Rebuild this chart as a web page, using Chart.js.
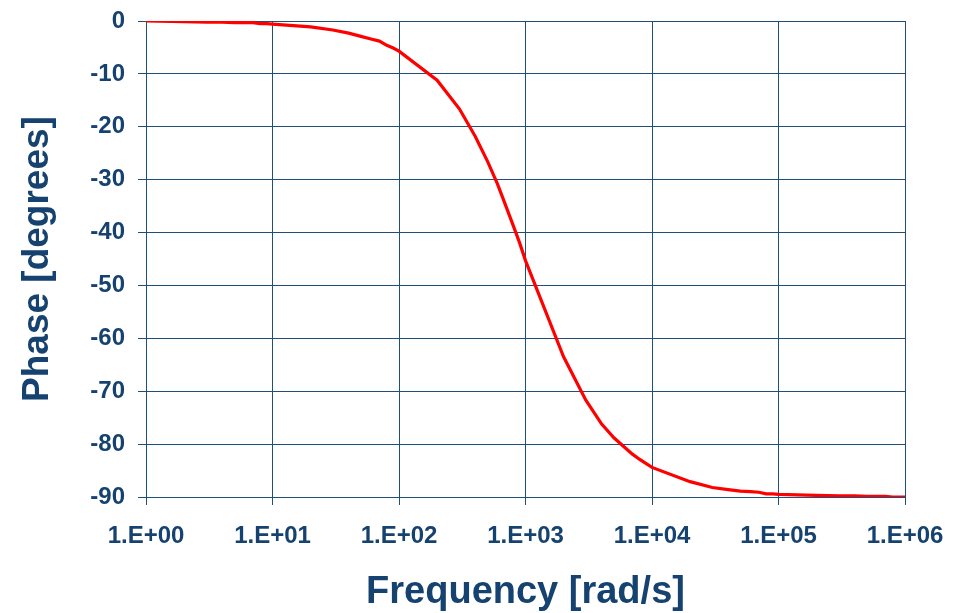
<!DOCTYPE html>
<html>
<head>
<meta charset="utf-8">
<script src="https://cdn.jsdelivr.net/npm/chart.js@4.4.1/dist/chart.umd.min.js"></script>
<style>
  html, body { margin: 0; padding: 0; background: #fff; }
  #wrap { width: 968px; height: 613px; position: relative; }
</style>
</head>
<body>
<div id="wrap"><canvas id="phaseChart"></canvas></div>
<script>
// ── Data ──────────────────────────────────────────────
const freq = [
  1, 2, 3, 4, 5, 6, 7, 8, 9,
  10, 20, 30, 40, 50, 60, 70, 80, 90,
  100, 200, 300, 400, 500, 600, 700, 800, 900,
  1000, 2000, 3000, 4000, 5000, 6000, 7000, 8000, 9000,
  10000, 20000, 30000, 40000, 50000, 60000, 70000, 80000, 90000,
  100000, 200000, 300000, 400000, 500000, 600000, 700000, 800000, 900000,
  1000000
];
const phase = [
  0, -0.1, -0.2, -0.2, -0.3, -0.3, -0.3, -0.5, -0.5,
  -0.6, -1.1, -1.7, -2.3, -2.9, -3.4, -3.8, -4.6, -5.1,
  -5.7, -11.2, -16.6, -21.8, -26.5, -30.8, -35.0, -38.7, -42.0,
  -45.3, -63.5, -71.7, -76.2, -78.8, -80.5, -81.9, -82.9, -83.7,
  -84.4, -87.1, -88.2, -88.6, -88.9, -89.0, -89.1, -89.4, -89.4,
  -89.5, -89.7, -89.8, -89.8, -89.9, -89.9, -89.9, -90, -90,
  -90
];
const xTickValues = [1, 10, 100, 1000, 10000, 100000, 1000000];
const xTickLabels = ["1.E+00", "1.E+01", "1.E+02", "1.E+03", "1.E+04", "1.E+05", "1.E+06"];

// ── Style ─────────────────────────────────────────────
const TEXT = "#16426f";
const GRID = "#1f4e79";
const FONT = "'Liberation Sans', Arial, sans-serif";

const points = freq.map((f, i) => ({ x: f, y: phase[i] }));

new Chart(document.getElementById("phaseChart"), {
  type: "line",
  data: {
    datasets: [{
      data: points,
      borderColor: "#ff0000",
      borderWidth: 3.2,
      pointRadius: 0,
      tension: 0,
      fill: false
    }]
  },
  options: {
    responsive: true,
    maintainAspectRatio: false,
    animation: false,
    layout: { padding: { top: 21, right: 63, bottom: 0, left: 0 } },
    plugins: { legend: { display: false }, tooltip: { enabled: false } },
    scales: {
      x: {
        type: "logarithmic",
        min: 1, max: 1000000,
        afterBuildTicks: s => { s.ticks = xTickValues.map(v => ({ value: v })); },
        afterFit: s => { s.height = 116; s.paddingLeft = 0; s.paddingRight = 0; },
        grid: { color: GRID, lineWidth: 1, tickLength: 8, tickColor: GRID },
        border: { color: GRID, width: 1 },
        ticks: {
          autoSkip: false, maxRotation: 0, padding: 17,
          color: TEXT, font: { family: FONT, size: 24, weight: "bold" },
          callback: v => xTickLabels[xTickValues.indexOf(v)] ?? ""
        },
        title: {
          display: true, text: "Frequency [rad/s]", color: TEXT,
          font: { family: FONT, size: 38, weight: "bold", lineHeight: 1 },
          padding: { top: 0, bottom: 1 }
        }
      },
      y: {
        min: -90, max: 0,
        afterFit: s => { s.width = 146; s.paddingTop = 0; s.paddingBottom = 0; },
        grid: { color: GRID, lineWidth: 1, tickLength: 8, tickColor: GRID },
        border: { color: GRID, width: 1 },
        ticks: {
          stepSize: 10, padding: 13,
          color: TEXT, font: { family: FONT, size: 24, weight: "bold" }
        },
        title: {
          display: true, text: "Phase [degrees]", color: TEXT,
          font: { family: FONT, size: 37, weight: "bold", lineHeight: 1 },
          padding: { top: 19, bottom: 0 }
        }
      }
    }
  }
});
</script>
</body>
</html>
